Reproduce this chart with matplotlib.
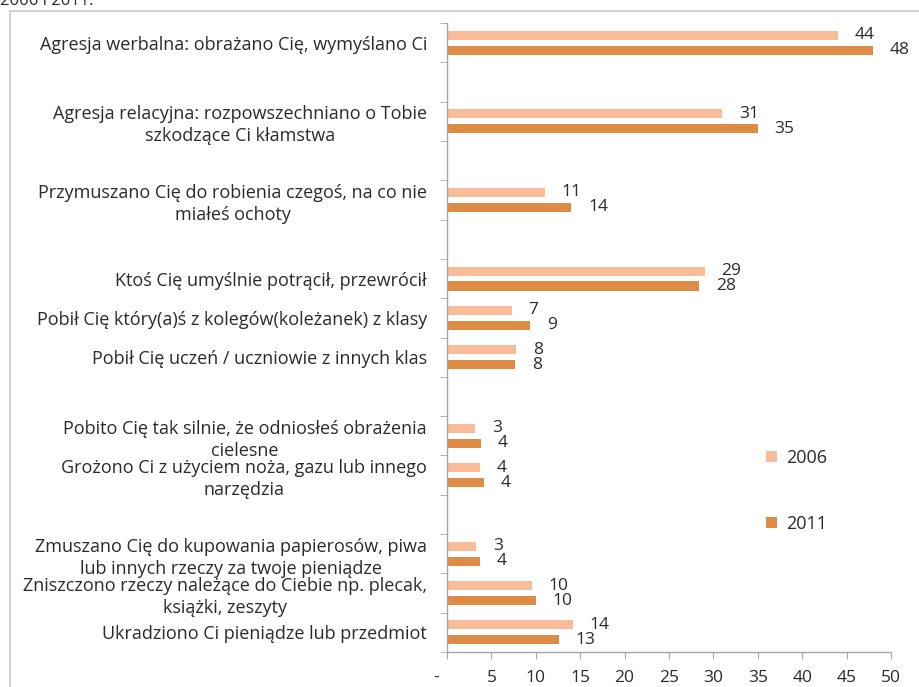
import matplotlib
matplotlib.use("Agg")
import matplotlib.pyplot as plt
from matplotlib.patches import Patch, Rectangle
from matplotlib.transforms import offset_copy
import numpy as np

categories = [
    "Agresja werbalna: obrażano Cię, wymyślano Ci",
    "",
    "Agresja relacyjna: rozpowszechniano o Tobie\nszkodzące Ci kłamstwa",
    "",
    "Przymuszano Cię do robienia czegoś, na co nie\nmiałeś ochoty",
    "",
    "Ktoś Cię umyślnie potrącił, przewrócił",
    "Pobił Cię który(a)ś z kolegów(koleżanek) z klasy",
    "Pobił Cię uczeń / uczniowie z innych klas",
    "",
    "Pobito Cię tak silnie, że odniosłeś obrażenia\ncielesne",
    "Grożono Ci z użyciem noża, gazu lub innego\nnarzędzia",
    "",
    "Zmuszano Cię do kupowania papierosów, piwa\nlub innych rzeczy za twoje pieniądze",
    "Zniszczono rzeczy należące do Ciebie np. plecak,\nksiążki, zeszyty",
    "Ukradziono Ci pieniądze lub przedmiot",
]
values_2006 = [44, None, 31, None, 11, None, 29, 7.3, 7.8, None, 3.2, 3.7, None, 3.3, 9.6, 14.2]
values_2011 = [48, None, 35, None, 14, None, 28.4, 9.4, 7.7, None, 3.8, 4.2, None, 3.7, 10.0, 12.6]
labels_2006 = ["44", "", "31", "", "11", "", "29", "7", "8", "", "3", "4", "", "3", "10", "14"]
labels_2011 = ["48", "", "35", "", "14", "", "28", "9", "8", "", "4", "4", "", "4", "10", "13"]
series_names = ["2006", "2011"]
xticks = [0, 5, 10, 15, 20, 25, 30, 35, 40, 45, 50]
xticklabels = ["-", "5", "10", "15", "20", "25", "30", "35", "40", "45", "50"]

c2006 = "#FABB98"
c2011 = "#DE8B46"
txt = "#2A2A2A"
font = ["Open Sans", "DejaVu Sans"]
plt.rcParams["font.family"] = font

fig = plt.figure(figsize=(9.2, 6.87), dpi=100)
ax = fig.add_axes([447 / 920, 1 - 652 / 687, (891 - 447) / 920, (652 - 23) / 687])

n = len(categories)
pos = np.arange(n)
bh = 0.23
off = 0.19
vfs = 12.5
for i in range(n):
    if values_2006[i] is not None:
        ax.barh(pos[i] - off, values_2006[i], height=bh, color=c2006)
        ax.annotate(labels_2006[i], (values_2006[i], pos[i] - off), xytext=(12, 0),
                    textcoords="offset points", ha="left", va="center", fontsize=vfs, color=txt)
    if values_2011[i] is not None:
        ax.barh(pos[i] + off, values_2011[i], height=bh, color=c2011)
        ax.annotate(labels_2011[i], (values_2011[i], pos[i] + off), xytext=(12, 0),
                    textcoords="offset points", ha="left", va="center", fontsize=vfs, color=txt)

ax.set_ylim(n - 0.5, -0.5)
ax.set_xlim(0, 50)
ax.set_yticks(pos)
ax.set_yticklabels(categories, fontsize=13, color=txt, ha="center", linespacing=1.28)
ax.set_yticks(np.arange(-0.5, n, 1.0), minor=True)
ax.tick_params(axis="y", which="major", length=0, pad=0)
ax.tick_params(axis="y", which="minor", length=5, color="#A6A6A6", direction="out")
fig.canvas.draw()
r = fig.canvas.get_renderer()
for lab in ax.get_yticklabels():
    w = lab.get_window_extent(r).width
    lab.set_transform(offset_copy(ax.get_yaxis_transform(which="tick1"), fig=fig,
                                  x=-(20 + w / 2) * 72 / 100, y=0, units="points"))

ax.set_xticks(xticks)
ax.set_xticklabels(xticklabels, fontsize=12.5, color=txt)
ax.tick_params(axis="x", length=5, color="#A6A6A6", direction="out", pad=8)
xl = ax.get_xticklabels()
xl[0].set_transform(offset_copy(xl[0].get_transform(), fig=fig, x=-8, y=0, units="points"))
for s in ["top", "right"]:
    ax.spines[s].set_visible(False)
for s in ["left", "bottom"]:
    ax.spines[s].set_color("#A6A6A6")
    ax.spines[s].set_linewidth(1.0)

handles = [Patch(facecolor=c2006, edgecolor="none"), Patch(facecolor=c2011, edgecolor="none")]
fig.legend(handles, series_names, loc="upper left", bbox_to_anchor=(766 / 920, 1 - 449 / 687),
           frameon=False, fontsize=13, handlelength=0.6, handleheight=0.6, handletextpad=0.5,
           labelspacing=2.65, borderpad=0, borderaxespad=0, labelcolor=txt)

fig.patches.append(Rectangle((10 / 920, -0.1), 1.0, (687 - 11) / 687 + 0.1, transform=fig.transFigure,
                             fill=False, edgecolor="#C8C8C8", linewidth=1.2))
fig.text(0.0, 1 - 5 / 687, "2006 i 2011.", fontsize=12, va="baseline", ha="left", color=txt)

fig.savefig("out.png", dpi=100)
